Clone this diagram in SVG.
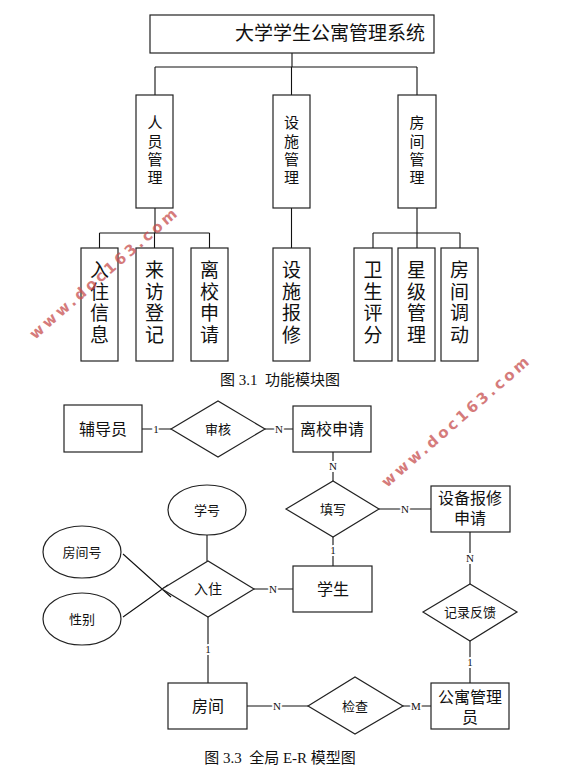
<svg xmlns="http://www.w3.org/2000/svg" width="588" height="775" viewBox="0 0 588 775">
<style>
.box{fill:#fff;stroke:#222;stroke-width:1.2}
.ln{stroke:#111;stroke-width:1.1;fill:none}
.t{font-family:"Liberation Serif","Noto Sans CJK SC",serif;fill:#111;text-anchor:middle}
.v2{font-size:15px}
.v3{font-size:19px}
.en{font-size:16px}
.rel{font-size:13px}
.cap{font-size:15px;white-space:pre}
.card{font-family:"Liberation Serif",serif;font-size:11px;fill:#111;text-anchor:middle;stroke:#fff;stroke-width:4;paint-order:stroke}
.wm{font-family:"DejaVu Sans",sans-serif;font-size:15px;font-weight:bold;fill:#c85050;opacity:0.75;letter-spacing:3.2px}
</style>
<rect width="588" height="775" fill="#fff"/>

<g id="connectors">
<!-- module tree -->
<path class="ln" d="M292 53V67M155 67H417M155 67V95M291.5 67V95M417 67V95"/>
<path class="ln" d="M155 208V233M99.5 233H209.5M99.5 233V248M154.5 233V248M209.5 233V248"/>
<path class="ln" d="M291.5 208V248"/>
<path class="ln" d="M417 208V248M373 233H460M373 233V248M460 233V248"/>
<!-- ER -->
<path class="ln" d="M142 429H171M265 429H293M333 452V481M379 509H431M333 537V566M470 532V584M470 641V683M247 706H308M403 706H431M254 589H293M208 617V683M207 535V561M123 554L171 597M123 617L168 585"/>
<text class="card" x="156" y="433">1</text>
<text class="card" x="279" y="433">N</text>
<text class="card" x="333" y="470">N</text>
<text class="card" x="405" y="513">N</text>
<text class="card" x="333" y="554">1</text>
<text class="card" x="470" y="562">N</text>
<text class="card" x="470" y="666">1</text>
<text class="card" x="277" y="710">N</text>
<text class="card" x="416" y="710">M</text>
<text class="card" x="273" y="593">N</text>
<text class="card" x="208" y="653">1</text>
</g>

<g id="title">
<rect class="box" x="150" y="15" width="284" height="38"/>
<text class="t" x="330" y="40" style="font-size:19px">大学学生公寓管理系统</text>
</g>

<g id="m-renyuan">
<rect class="box" x="136" y="95" width="37" height="113"/>
<text class="t v2" x="155" y="128">人</text><text class="t v2" x="155" y="147">员</text><text class="t v2" x="155" y="165">管</text><text class="t v2" x="155" y="183">理</text>
</g>
<g id="m-sheshi">
<rect class="box" x="273" y="95" width="37" height="113"/>
<text class="t v2" x="291.5" y="128">设</text><text class="t v2" x="291.5" y="147">施</text><text class="t v2" x="291.5" y="165">管</text><text class="t v2" x="291.5" y="183">理</text>
</g>
<g id="m-fangjian">
<rect class="box" x="398" y="95" width="38" height="113"/>
<text class="t v2" x="417" y="128">房</text><text class="t v2" x="417" y="147">间</text><text class="t v2" x="417" y="165">管</text><text class="t v2" x="417" y="183">理</text>
</g>

<g id="s-ruzhu">
<rect class="box" x="81" y="248" width="37" height="113"/>
<text class="t v3" x="99.5" y="277">入</text><text class="t v3" x="99.5" y="299">住</text><text class="t v3" x="99.5" y="320">信</text><text class="t v3" x="99.5" y="342">息</text>
</g>
<g id="s-laifang">
<rect class="box" x="136" y="248" width="37" height="113"/>
<text class="t v3" x="154.5" y="277">来</text><text class="t v3" x="154.5" y="299">访</text><text class="t v3" x="154.5" y="320">登</text><text class="t v3" x="154.5" y="342">记</text>
</g>
<g id="s-lixiao">
<rect class="box" x="191" y="248" width="37" height="113"/>
<text class="t v3" x="209.5" y="277">离</text><text class="t v3" x="209.5" y="299">校</text><text class="t v3" x="209.5" y="320">申</text><text class="t v3" x="209.5" y="342">请</text>
</g>
<g id="s-baoxiu">
<rect class="box" x="273" y="248" width="37" height="113"/>
<text class="t v3" x="291.5" y="277">设</text><text class="t v3" x="291.5" y="299">施</text><text class="t v3" x="291.5" y="320">报</text><text class="t v3" x="291.5" y="342">修</text>
</g>
<g id="s-weisheng">
<rect class="box" x="354" y="248" width="38" height="113"/>
<text class="t v3" x="373" y="277">卫</text><text class="t v3" x="373" y="299">生</text><text class="t v3" x="373" y="320">评</text><text class="t v3" x="373" y="342">分</text>
</g>
<g id="s-xingji">
<rect class="box" x="398" y="248" width="37" height="113"/>
<text class="t v3" x="416.5" y="277">星</text><text class="t v3" x="416.5" y="299">级</text><text class="t v3" x="416.5" y="320">管</text><text class="t v3" x="416.5" y="342">理</text>
</g>
<g id="s-tiaodong">
<rect class="box" x="441" y="248" width="37" height="113"/>
<text class="t v3" x="459.5" y="277">房</text><text class="t v3" x="459.5" y="299">间</text><text class="t v3" x="459.5" y="320">调</text><text class="t v3" x="459.5" y="342">动</text>
</g>

<text class="t cap" x="280" y="385">图 3.1  功能模块图</text>

<!-- ER diagram -->
<g id="fudaoyuan">
<rect class="box" x="64" y="405" width="78" height="47"/>
<text class="t en" x="103" y="435">辅导员</text>
</g>
<g id="shenhe">
<polygon class="box" points="171,429 218,401 265,429 218,457"/>
<text class="t rel" x="218" y="434">审核</text>
</g>
<g id="lixiaoshenqing">
<rect class="box" x="293" y="406" width="78" height="46"/>
<text class="t en" x="332" y="435">离校申请</text>
</g>
<g id="tianxie">
<polygon class="box" points="286,509 333,481 379,509 333,537"/>
<text class="t rel" x="333" y="514">填写</text>
</g>
<g id="shebeibaoxiu">
<rect class="box" x="431" y="486" width="79" height="46"/>
<text class="t en" x="470" y="504">设备报修</text>
<text class="t en" x="470" y="524">申请</text>
</g>
<g id="xuehao">
<ellipse class="box" cx="207" cy="510" rx="39" ry="25"/>
<text class="t rel" x="207" y="515">学号</text>
</g>
<g id="fangjianhao">
<ellipse class="box" cx="82" cy="552" rx="39" ry="26"/>
<text class="t rel" x="82" y="557">房间号</text>
</g>
<g id="xingbie">
<ellipse class="box" cx="82" cy="619" rx="39" ry="26"/>
<text class="t rel" x="82" y="624">性别</text>
</g>
<g id="ruzhu">
<polygon class="box" points="162,589 208,561 254,589 208,617"/>
<text class="t" x="208" y="594" style="font-size:14px">入住</text>
</g>
<g id="xuesheng">
<rect class="box" x="293" y="566" width="79" height="46"/>
<text class="t en" x="333" y="595">学生</text>
</g>
<g id="jilufankui">
<polygon class="box" points="423,612 470,584 517,612 470,641"/>
<text class="t rel" x="470" y="617">记录反馈</text>
</g>
<g id="fangjian">
<rect class="box" x="168" y="683" width="79" height="46"/>
<text class="t en" x="208" y="712">房间</text>
</g>
<g id="jiancha">
<polygon class="box" points="308,706 355,677 403,706 355,734"/>
<text class="t rel" x="355" y="711">检查</text>
</g>
<g id="gongyuguanliyuan">
<rect class="box" x="431" y="683" width="78" height="46"/>
<text class="t en" x="470" y="703">公寓管理</text>
<text class="t en" x="470" y="723">员</text>
</g>

<text class="t cap" x="280" y="763">图 3.3  全局 E-R 模型图</text>

<text class="wm" transform="translate(35,340) rotate(-41)">www.doc163.com</text>
<text class="wm" transform="translate(387,488) rotate(-41)">www.doc163.com</text>
</svg>
